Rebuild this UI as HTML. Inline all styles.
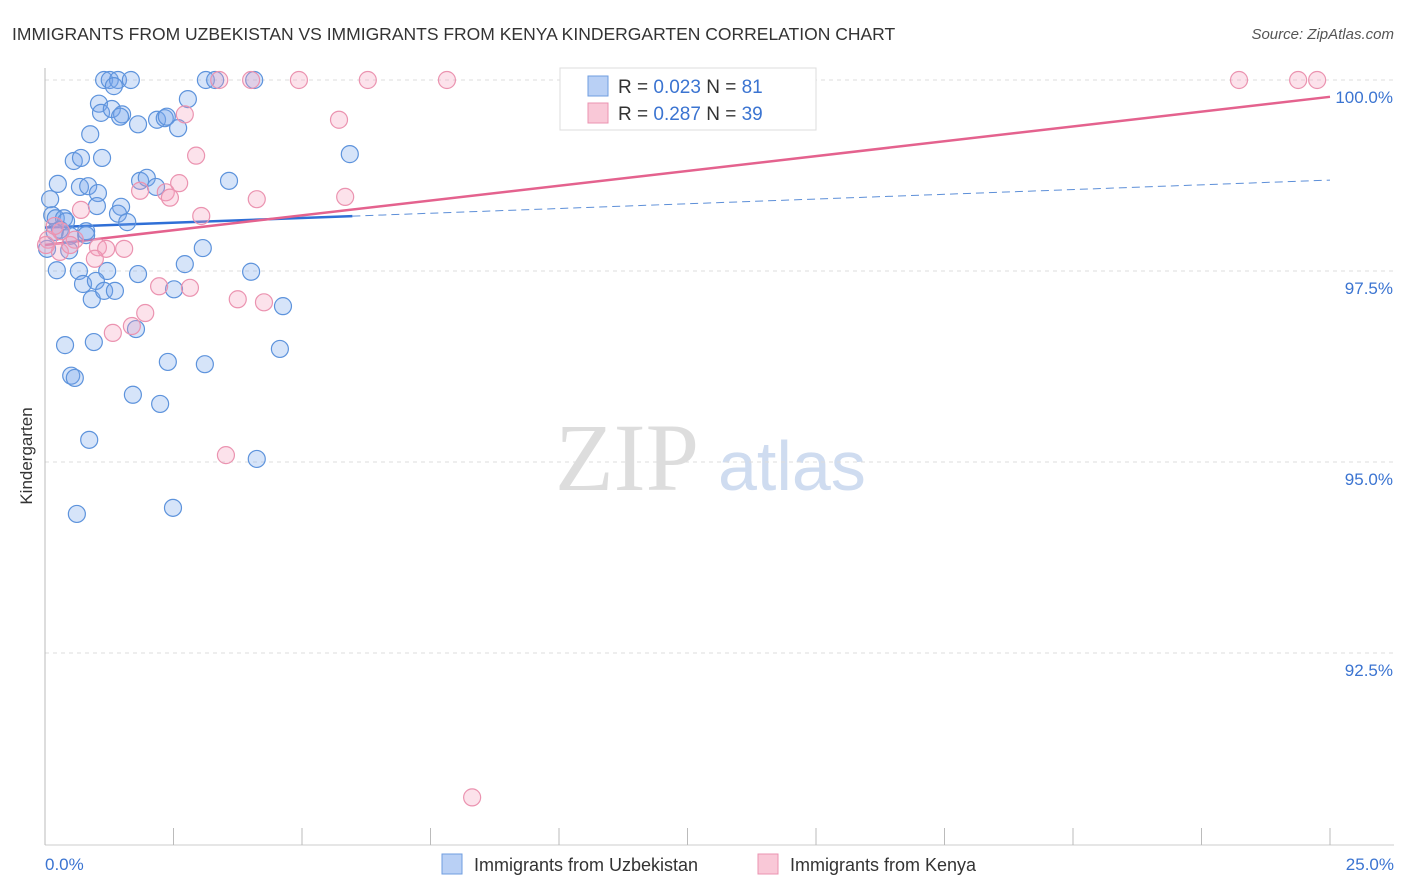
<!DOCTYPE html>
<html><head><meta charset="utf-8"><style>
body{margin:0;background:#fff;font-family:"Liberation Sans",sans-serif}
svg{display:block}
</style></head><body>
<svg width="1406" height="892" xmlns="http://www.w3.org/2000/svg">
<text x="12" y="40" font-size="17.5" fill="#333">IMMIGRANTS FROM UZBEKISTAN VS IMMIGRANTS FROM KENYA KINDERGARTEN CORRELATION CHART</text>
<text x="1394" y="39" font-size="15" fill="#555" font-style="italic" text-anchor="end">Source: ZipAtlas.com</text>
<text x="32" y="456" font-size="17" fill="#333" transform="rotate(-90 32 456)" text-anchor="middle">Kindergarten</text>
<g>
<text x="555" y="490" font-size="96" fill="#ddd" font-family="Liberation Serif,serif">ZIP</text>
<text x="718" y="490" font-size="70" fill="#cfdcf0">atlas</text>
</g>
<g id="grid"></g>
<g id="axes"></g>
<g id="trends"></g>
<g id="pts"></g>
<g>
<rect x="560" y="68" width="256" height="62" fill="#fff" stroke="#ddd"/>
<rect x="588" y="76" width="20" height="20" fill="#b9d0f5" stroke="#6f9ee0"/>
<text x="618" y="93" font-size="19" fill="#333">R = <tspan fill="#3b74d1">0.023</tspan>   N = <tspan fill="#3b74d1">81</tspan></text>
<rect x="588" y="103" width="20" height="20" fill="#f9c8d7" stroke="#eb93b0"/>
<text x="618" y="120" font-size="19" fill="#333">R = <tspan fill="#3b74d1">0.287</tspan>   N = <tspan fill="#3b74d1">39</tspan></text>
</g>
<g>
<rect x="442" y="854" width="20" height="20" fill="#b9d0f5" stroke="#6f9ee0"/>
<text x="474" y="871" font-size="18" fill="#333">Immigrants from Uzbekistan</text>
<rect x="758" y="854" width="20" height="20" fill="#f9c8d7" stroke="#eb93b0"/>
<text x="790" y="871" font-size="18" fill="#333">Immigrants from Kenya</text>
</g>
</svg>
<script>
const yTicks=[100,97.5,95,92.5];
const yTickLabels=["100.0%","97.5%","95.0%","92.5%"];
const xTickLabels=["0.0%","25.0%"];
const blueX=[1.15,1.26,1.42,1.67,3.13,3.31,4.07,1.34,1.05,1.09,1.30,1.50,1.46,1.81,2.18,2.33,2.37,2.59,2.78,0.88,0.56,0.70,1.11,0.25,0.68,0.84,1.03,1.01,1.48,1.42,1.60,1.85,1.98,2.16,3.58,5.93,0.10,0.14,0.21,0.37,0.41,0.29,0.19,0.80,0.80,0.49,0.47,0.04,0.23,0.66,1.21,1.81,0.74,0.99,0.91,1.15,1.36,2.51,2.72,3.07,4.01,4.63,1.77,0.39,0.95,2.39,3.11,4.57,0.51,0.58,1.71,2.24,0.86,4.12,0.62,2.49];
const blueY=[100,100,100,100,100,100,100,99.92,99.69,99.57,99.62,99.55,99.52,99.42,99.48,99.50,99.52,99.37,99.75,99.29,98.94,98.98,98.98,98.64,98.60,98.61,98.52,98.35,98.34,98.25,98.14,98.68,98.72,98.60,98.68,99.03,98.44,98.23,98.19,98.19,98.15,98.04,98.01,98.02,97.97,97.96,97.77,97.79,97.51,97.50,97.50,97.46,97.33,97.37,97.13,97.24,97.24,97.26,97.59,97.80,97.49,97.04,96.74,96.53,96.57,96.31,96.28,96.48,96.13,96.10,95.88,95.76,95.29,95.04,94.32,94.40];
const pinkX=[3.39,4.01,4.94,6.28,7.82,23.23,24.38,24.75,2.72,5.72,2.94,1.85,2.35,2.43,2.61,3.04,4.12,5.84,0.70,0.31,0.06,0.58,1.03,1.19,1.54,0.97,0.29,2.22,2.82,3.75,4.26,1.95,1.69,1.32,3.52,8.31,0.02,0.19,0.49];
const pinkY=[100,100,100,100,100,100,100,100,99.55,99.48,99.01,98.55,98.53,98.46,98.65,98.22,98.44,98.47,98.30,98.02,97.91,97.91,97.81,97.79,97.79,97.66,97.75,97.30,97.28,97.13,97.09,96.95,96.78,96.69,95.09,90.61,97.84,98.09,97.84];
const blueTrend=[98.07,98.69];
const blueSolidEnd=5.98;
const pinkTrend=[97.84,99.78];
const NS="http://www.w3.org/2000/svg";
const X0=45,X1=1330,Y100=80,PX25=191;
const sx=v=>X0+(v/25)*(X1-X0);
const sy=v=>Y100+(100-v)/2.5*PX25;
function mk(t,a,p){const e=document.createElementNS(NS,t);for(const k in a)e.setAttribute(k,a[k]);p.appendChild(e);return e;}
const grid=document.getElementById('grid'),axes=document.getElementById('axes'),trends=document.getElementById('trends'),pts=document.getElementById('pts');
yTicks.forEach((v,i)=>{
 const l=mk('line',{x1:X0,x2:1394,y1:sy(v),y2:sy(v),stroke:'#ddd','stroke-dasharray':'4,4'},grid);
 
 
 const t=mk('text',{x:1393,y:sy(v)+23,'font-size':17,fill:'#3b74d1','text-anchor':'end'},axes);
 t.textContent=yTickLabels[i];
 
 
});
const la=mk('line',{x1:X0,x2:X0,y1:68,y2:845,stroke:'#bbb'},axes);


const ba=mk('line',{x1:X0,x2:1394,y1:845,y2:845,stroke:'#ccc'},axes);


for(let i=0;i<=10;i++){
 const tk=mk('line',{x1:sx(i*2.5),x2:sx(i*2.5),y1:828,y2:845,stroke:'#bbb'},axes);
 
 
}
const xl0=mk('text',{x:45,y:870,'font-size':17,fill:'#3b74d1'},axes);xl0.textContent=xTickLabels[0];


const xl1=mk('text',{x:1394,y:870,'font-size':17,fill:'#3b74d1','text-anchor':'end'},axes);xl1.textContent=xTickLabels[1];


function drawPts(xs,ys,fill,stroke,name){
 xs.forEach((x,i)=>{
  const c=mk('circle',{cx:sx(x),cy:sy(ys[i]),r:8.5,fill:fill,stroke:stroke,'stroke-width':1.2},pts);
  
  
 });
}
drawPts(blueX,blueY,'rgba(120,165,235,0.3)','#5d93dc','uzbekistan-point');
drawPts(pinkX,pinkY,'rgba(245,160,190,0.3)','#eb93b0','kenya-point');
const bt=v=>blueTrend[0]+(blueTrend[1]-blueTrend[0])*v/25;
const b1=mk('line',{x1:sx(0),y1:sy(bt(0)),x2:sx(blueSolidEnd),y2:sy(bt(blueSolidEnd)),stroke:'#2f6fd6','stroke-width':2.5},trends);


const b2=mk('line',{x1:sx(blueSolidEnd),y1:sy(bt(blueSolidEnd)),x2:sx(25),y2:sy(bt(25)),stroke:'#5d8fd8','stroke-width':1,'stroke-dasharray':'8,5'},trends);


const p1=mk('line',{x1:sx(0),y1:sy(pinkTrend[0]),x2:sx(25),y2:sy(pinkTrend[1]),stroke:'#e4628e','stroke-width':2.5},trends);


</script>
</body></html>
